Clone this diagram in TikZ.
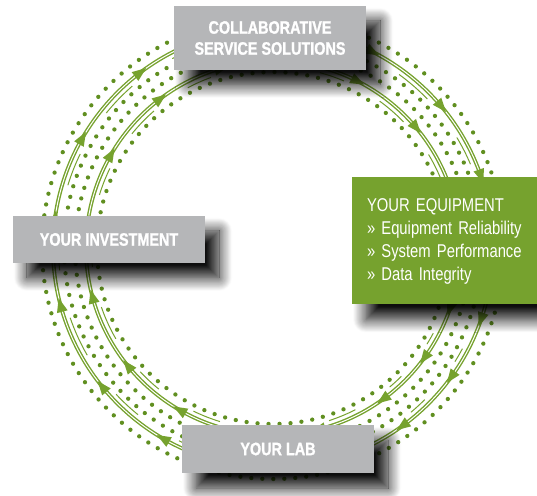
\documentclass[tikz,border=0pt]{standalone}
\usepackage{fontspec}
\setmainfont{Liberation Sans}[FakeStretch=0.8]
\newfontfamily\panelfont{Liberation Sans Bold}[FakeStretch=0.8, FakeBold=1.2]
\usetikzlibrary{shadows.blur}
\definecolor{leafgreen}{RGB}{118,162,46}
\definecolor{dotgreen}{RGB}{96,143,32}
\definecolor{panelgray}{RGB}{181,182,184}
\tikzset{
  dotring/.style={dotgreen, line width=4.3pt, line cap=round, dash pattern=on 0pt off 11pt},
  rail/.style={leafgreen, line width=1.4pt, double=white, double distance=1pt},
  streak/.style={leafgreen, line width=1pt},
  panel/.style={fill=panelgray, text=white, inner sep=0pt, minimum width=192pt,
    font=\panelfont\fontsize{18}{21}\selectfont, align=center,
    blur shadow={shadow xshift=14pt, shadow yshift=-15pt, shadow blur radius=13pt,
      shadow blur steps=16, shadow opacity=95}}
}
\begin{document}
\begin{tikzpicture}[x=1pt,y=1pt]
  \useasboundingbox (0,0) rectangle (537,495);
  \coordinate (hub) at (273,247);
  \foreach \r in {231,209,198,176}
    \draw[dotring] (hub) circle[radius=\r];
  \foreach \r in {220,187}
    \draw[rail] (hub) circle[radius=\r];
  \foreach \a/\b in {172/150,150/127,127/106,106/84,84/63,63/40,40/19,19/0,0/-19,-19/-36,-36/-54,-54/-76,-76/-98,-98/-120,-120/-141,-141/-165,-165/-188}
    \foreach \r in {220,187} {
      \draw[streak] (hub) ++(\a-9:\r-5.5) arc[start angle=\a-9, end angle=\b+4, radius=\r-5.5];
      \fill[leafgreen, shift={(hub)}, rotate=\b] (\r,-7) -- (\r+5.5,7) -- (\r-5.5,7) -- cycle;
    }
  \node[panel, minimum height=64pt] (css) at (270,457) {COLLABORATIVE\\SERVICE SOLUTIONS};
  \node[panel, minimum height=47pt] (invest) at (109,255.5) {YOUR INVESTMENT};
  \node[panel, minimum height=48pt] (lab) at (278,46) {YOUR LAB};
  \node[panel, fill=leafgreen, minimum width=185pt, minimum height=127pt, text width=155pt,
    align=left, font=\rmfamily\fontsize{18.5}{23}\selectfont] (equip) at (444.5,254)
    {YOUR EQUIPMENT\\» Equipment Reliability\\» System Performance\\» Data Integrity};
\end{tikzpicture}
\end{document}
